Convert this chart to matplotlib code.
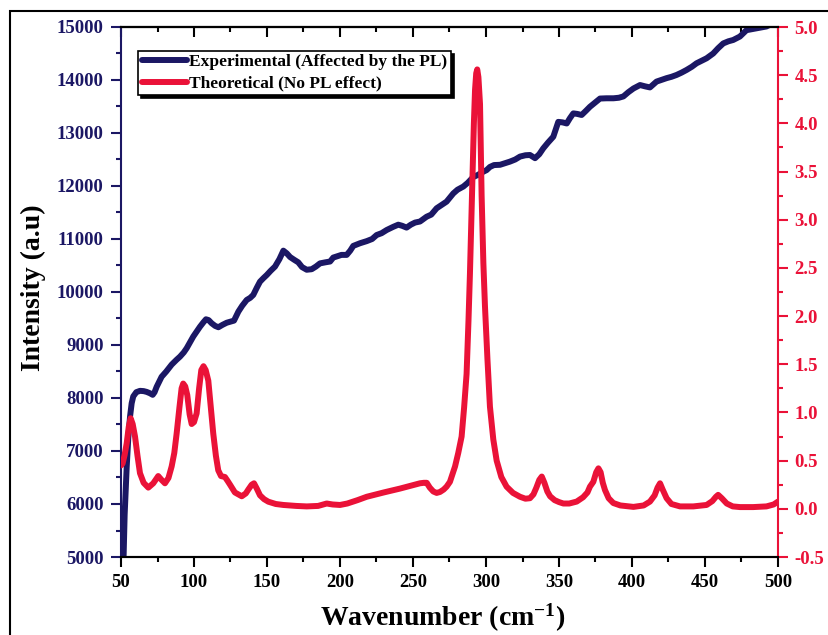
import matplotlib
matplotlib.use("Agg")
import matplotlib.pyplot as plt
from matplotlib.patches import Rectangle
from matplotlib.ticker import MultipleLocator

# Experimental spectrum (left axis)
exp_x = [50.5, 51.5, 52.5, 53.9, 55.0, 56.2, 57.3, 58.4, 60.5, 63.0, 65.5, 67.6, 69.8, 71.7, 73.0,
         74.4, 77.8, 81.0, 84.7, 88.0, 90.4, 93.0, 95.0, 97.5, 99.5, 102.0, 104.1, 106.5, 108.2,
         110.0, 112.1, 114.5, 116.7, 119.5, 122.4, 125.0, 127.4, 130.4, 133.0, 136.1, 138.5, 140.6,
         143.0, 145.2, 147.5, 149.8, 152.5, 155.5, 158.5, 161.2, 163.5, 165.8, 168.5, 171.4, 174.0,
         177.2, 180.6, 183.5, 186.3, 190.0, 193.2, 195.4, 197.7, 201.0, 204.6, 207.0, 209.1, 213.7,
         218.3, 222.0, 225.1, 228.5, 232.0, 236.5, 239.9, 242.5, 245.6, 248.5, 251.4, 254.8, 259.3,
         262.5, 266.2, 269.5, 273.0, 277.6, 280.5, 284.5, 287.5, 291.3, 294.5, 298.2, 300.4, 302.7,
         305.5, 309.6, 313.0, 316.4, 320.0, 323.3, 327.0, 330.1, 333.6, 336.5, 339.2, 342.5, 346.1,
         349.5, 352.5, 355.3, 357.5, 359.8, 362.5, 365.5, 368.5, 371.2, 374.5, 378.1, 382.5, 387.3,
         391.0, 394.1, 397.5, 401.0, 405.5, 409.0, 412.3, 416.8, 420.0, 423.7, 427.0, 430.5, 434.0,
         437.4, 441.0, 444.2, 447.5, 451.1, 455.6, 459.0, 462.5, 466.0, 469.3, 473.9, 478.4, 485.3,
         492.1, 500.0]
exp_y = [3500, 4700, 5800, 6700, 7250, 7650, 7900, 8030, 8110, 8135, 8130, 8115, 8090, 8060, 8110,
         8210, 8400, 8500, 8630, 8720, 8780, 8860, 8940, 9060, 9160, 9260, 9345, 9430, 9485,
         9470, 9410, 9360, 9335, 9380, 9420, 9440, 9460, 9630, 9740, 9850, 9890, 9945,
         10080, 10195, 10260, 10320, 10400, 10480, 10620, 10780, 10730, 10660, 10610, 10560, 10470,
         10420, 10430, 10480, 10540, 10560, 10575, 10650, 10670, 10700, 10700, 10780, 10870, 10920,
         10960, 11000, 11075, 11110, 11170, 11230, 11270, 11250, 11215, 11270, 11310, 11330, 11420,
         11460, 11580, 11640, 11705, 11860, 11930, 11990, 12060, 12170, 12210, 12270, 12300, 12360,
         12395, 12400, 12430, 12460, 12500, 12555, 12580, 12585, 12525, 12600, 12710, 12820, 12930,
         13210, 13200, 13180, 13280, 13370, 13360, 13340, 13420, 13495, 13570, 13650, 13655, 13655,
         13665, 13690, 13770, 13840, 13905, 13880, 13860, 13970, 14000, 14035, 14060, 14095, 14140,
         14190, 14250, 14315, 14360, 14410, 14500, 14600, 14690, 14730, 14755, 14820, 14940, 14975,
         15010, 15120]

# Theoretical spectrum (right axis)
th_x = [50.0, 51.1, 52.5, 53.9, 55.3, 56.6, 58.0, 59.6, 61.3, 63.0, 65.5, 68.7, 72.1, 75.5, 77.8,
        80.1, 82.5, 84.7, 86.5, 88.1, 90.0, 91.5, 92.6, 94.0, 95.4, 97.0, 98.4, 100.0, 101.8, 103.5,
        105.0, 106.5, 108.0, 109.8, 111.5, 113.2, 115.0, 116.6, 118.5, 121.2, 123.0, 124.7, 128.0,
        132.7, 135.5, 137.2, 139.5, 141.1, 143.0, 145.2, 148.0, 150.9, 156.0, 161.2, 170.0, 177.2,
        185.0, 190.9, 195.0, 200.0, 205.0, 212.0, 218.3, 230.0, 241.1, 250.0, 254.8, 257.5, 259.4,
        261.5, 263.9, 266.2, 268.5, 271.0, 273.0, 275.3, 278.8, 281.0, 283.3, 285.0, 286.7, 288.0,
        289.0, 290.0, 290.8, 291.7, 292.5, 293.3, 294.0, 294.8, 295.9, 297.0, 298.2, 299.3, 301.0,
        302.7, 305.0, 307.3, 310.5, 314.1, 318.5, 323.3, 327.0, 330.1, 332.5, 334.5, 336.5, 338.2,
        340.0, 342.0, 343.9, 347.0, 350.0, 353.0, 357.0, 362.1, 366.5, 369.5, 371.2, 373.5, 375.5,
        377.0, 378.5, 380.0, 381.5, 384.0, 387.2, 392.0, 401.0, 408.0, 412.3, 415.5, 417.5, 419.2,
        421.0, 423.7, 427.0, 432.9, 442.0, 451.1, 455.0, 457.5, 459.0, 461.5, 464.9, 469.0, 474.0,
        483.0, 492.1, 497.0, 500.0]
th_y = [0.45, 0.47, 0.56, 0.68, 0.85, 0.94, 0.88, 0.75, 0.55, 0.37, 0.27, 0.22, 0.265, 0.34, 0.30,
        0.265, 0.32, 0.44, 0.58, 0.78, 1.05, 1.25, 1.30, 1.27, 1.18, 0.98, 0.88, 0.90, 0.99, 1.25,
        1.44, 1.48, 1.44, 1.33, 1.05, 0.78, 0.55, 0.40, 0.34, 0.33, 0.29, 0.25, 0.17,
        0.13, 0.16, 0.20, 0.25, 0.265, 0.21, 0.14, 0.10, 0.074, 0.05, 0.04, 0.03, 0.025,
        0.03, 0.055, 0.045, 0.04, 0.055, 0.09, 0.125, 0.17, 0.21, 0.245, 0.265, 0.27, 0.27,
        0.22, 0.18, 0.165, 0.175, 0.20, 0.23, 0.28, 0.44, 0.58, 0.75, 1.05, 1.40, 1.95,
        2.44, 3.00, 3.48, 4.00, 4.35, 4.52, 4.56, 4.48, 4.20, 3.25, 2.55, 2.10, 1.55,
        1.06, 0.72, 0.50, 0.33, 0.23, 0.165, 0.125, 0.105, 0.11, 0.15, 0.22, 0.30, 0.335,
        0.27, 0.18, 0.13, 0.09, 0.07, 0.055, 0.055, 0.075, 0.12, 0.17, 0.23, 0.28, 0.38,
        0.42, 0.38, 0.27, 0.195, 0.11, 0.06, 0.035, 0.02, 0.035, 0.075, 0.14, 0.22, 0.265,
        0.20, 0.11, 0.05, 0.025, 0.025, 0.04, 0.08, 0.125, 0.145, 0.11, 0.055, 0.025, 0.018,
        0.018, 0.025, 0.045, 0.075]

navy = '#1b1764'
red = '#ea1238'

plt.rcParams['font.family'] = 'Liberation Serif'
plt.rcParams['font.weight'] = 'bold'
plt.rcParams['mathtext.default'] = 'regular'

fig = plt.figure(figsize=(8.29, 6.35), dpi=100)

# outer frame, cut off at right and bottom like the source image
fig.patches.append(Rectangle((10 / 829, -0.1), 1.2, 1.1 - 11 / 635, transform=fig.transFigure,
                             fill=False, edgecolor='black', linewidth=1.5))

ax = fig.add_axes([121 / 829, 1 - 557 / 635, 657 / 829, 530 / 635])
ax2 = ax.twinx()

l1, = ax.plot(exp_x, exp_y, color=navy, lw=4.3, solid_joinstyle='round', solid_capstyle='round',
              label='Experimental (Affected by the PL)')
l2, = ax2.plot(th_x, th_y, color=red, lw=4.3, solid_joinstyle='round', solid_capstyle='round',
               label='Theoretical (No PL effect)')

ax.set_xlim(50, 500)
ax.set_ylim(5000, 15000)
ax2.set_ylim(-0.5, 5.0)

ax.xaxis.set_major_locator(MultipleLocator(50))
ax.xaxis.set_minor_locator(MultipleLocator(25))
ax.yaxis.set_major_locator(MultipleLocator(1000))
ax.yaxis.set_minor_locator(MultipleLocator(500))
ax2.yaxis.set_major_locator(MultipleLocator(0.5))
ax2.yaxis.set_minor_locator(MultipleLocator(0.25))
ax2.yaxis.set_major_formatter(matplotlib.ticker.FormatStrFormatter('%.1f'))

for a in (ax, ax2):
    for s in a.spines.values():
        s.set_linewidth(1.5)
ax.spines['left'].set_color(navy)
ax2.spines['left'].set_visible(False)
ax2.spines['right'].set_color(red)
ax.spines['right'].set_visible(False)

ax.tick_params(axis='x', which='major', direction='out', length=7, width=1.5, pad=5.5, labelsize=13.5)
ax.tick_params(axis='x', which='minor', direction='out', length=3.5, width=1.5)
ax.tick_params(axis='y', which='major', direction='out', length=7.5, width=1.5, pad=5,
               labelsize=13.5, colors=navy)
ax.tick_params(axis='y', which='minor', direction='out', length=3.5, width=1.5, colors=navy)
ax2.tick_params(axis='y', which='major', direction='out', length=7, width=1.5, pad=5,
                labelsize=13.5, colors=red)
ax2.tick_params(axis='y', which='minor', direction='out', length=3.5, width=1.5, colors=red)

# top ticks point inward
top = ax.secondary_xaxis('top')
top.xaxis.set_major_locator(MultipleLocator(50))
top.xaxis.set_minor_locator(MultipleLocator(25))
top.tick_params(which='major', direction='in', length=7, width=1.5, labeltop=False)
top.tick_params(which='minor', direction='in', length=3.5, width=1.5)
top.spines['top'].set_linewidth(1.5)

ax.set_xlabel('Wavenumber (cm$^{-1}$)', fontsize=20, fontweight='bold')
ax.set_ylabel('Intensity (a.u)', fontsize=20, fontweight='bold')
ax.xaxis.set_label_coords(0.49, -0.085)
ax.yaxis.set_label_coords(-0.114, 0.509)

leg = ax2.legend(handles=[l1, l2], loc='upper left', bbox_to_anchor=(0.026, 0.955),
                 borderaxespad=0, fontsize=12.5, frameon=True, fancybox=False,
                 edgecolor='black', framealpha=1, handlelength=2.6, handletextpad=0.15,
                 borderpad=0.2, labelspacing=0.3,
                 shadow={'color': 'black', 'alpha': 1, 'ox': 2.2, 'oy': -2.2})
leg.get_frame().set_linewidth(1.2)
for t in leg.get_texts():
    t.set_fontweight('bold')

fig.savefig('out.png', dpi=100)
